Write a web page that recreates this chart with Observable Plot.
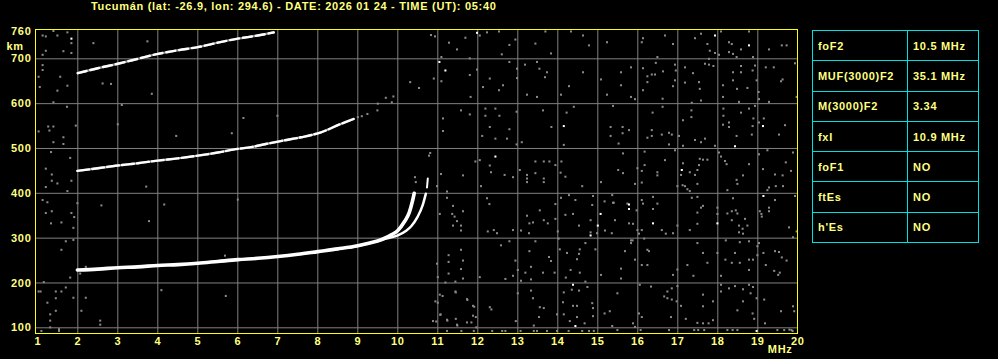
<!DOCTYPE html>
<html><head><meta charset="utf-8">
<script src="https://cdn.jsdelivr.net/npm/d3@7"></script>
<script src="https://cdn.jsdelivr.net/npm/@observablehq/plot@0.6"></script>
<style>
html,body{margin:0;padding:0;background:#000;}
#wrap{position:relative;width:998px;height:359px;background:#000;overflow:hidden;font-family:"Liberation Sans",Arial,sans-serif;font-weight:bold;}
#wrap svg{position:absolute;left:0;top:0;}
#title{position:absolute;left:91px;top:0px;font-size:11px;letter-spacing:0.7px;color:#ffff80;white-space:nowrap;line-height:13px;}
#params{position:absolute;left:812px;top:30px;border-collapse:collapse;table-layout:fixed;width:166px;}
#params td{border:1px solid #00e0e0;height:30.3px;padding:0 0 0 5px;color:#ffff80;font-size:11px;letter-spacing:0.7px;white-space:nowrap;box-sizing:border-box;}
</style></head>
<body><div id="wrap"><div id="title"></div><table id="params"><colgroup><col style="width:95px"><col style="width:71px"></colgroup><tbody></tbody></table></div>
<script>
const titleText = "Tucumán (lat: -26.9, lon: 294.6) - DATE: 2026 01 24 - TIME (UT): 05:40";
const paramNames = ["foF2", "MUF(3000)F2", "M(3000)F2", "fxI", "foF1", "ftEs", "h'Es"];
const paramValues = ["10.5 MHz", "35.1 MHz", "3.34", "10.9 MHz", "NO", "NO", "NO"];

const xTicks = [1,2,3,4,5,6,7,8,9,10,11,12,13,14,15,16,17,18,19,20];
const yTicks = [760,700,600,500,400,300,200,100];
const gridF = [2,3,4,5,6,7,8,9,10,11,12,13,14,15,16,17,18,19];
const gridH = [100,200,300,400,500,600,700];

// ordinary-wave F2 trace
const oF = [1.99,2.5,3,3.5,4,4.5,5,5.5,6,6.5,7,7.5,8,8.5,9,9.3,9.6,9.85,10.0,10.16,10.29,10.37,10.41];
const oH = [229,231,234,236,239,241,244,248,252,255,259,264,270,276,283,289,297,308,317,336,358,384,400];
// extraordinary-wave trace
const xF = [8.8,9.2,9.66,10.0,10.2,10.33,10.49,10.62,10.7];
const xH = [279,287,298,306,316,326,347,373,399];
const xDashF = [10.73,10.75];
const xDashH = [413,433];
// second hop
const hop2F = [1.99,2.5,3,3.5,4,4.5,5,5.5,6,6.33,6.7,7.1,7.58,8.08,8.53,8.9];
const hop2H = [450,456,462,467,473,478,484,491,499,503,510,517,525,536,553,566];
// third hop
const hop3F = [2.0,2.5,3,3.5,4,4.5,5,5.5,6,6.5,6.9];
const hop3H = [668,679,689,700,711,719,726,736,745,752,759];

// scattered echoes (MHz, km)
const noiseGrey = [
[10.83,753],[10.93,750],[11.28,736],[11.48,721],[11.69,747],[12.05,752],[12.23,759],[12.53,761],[12.79,731],[12.94,743],[13.44,734],[13.69,761],[13.83,712],[14.33,761],[14.63,752],[14.78,730],[15.23,737],[12.6,710],
[11.09,704],[10.9,656],[11.09,650],[11.8,701],[11.98,676],[11.8,664],[12.3,656],[12.13,637],[12.53,630],[12.63,641],[12.79,693],[12.98,678],[12.98,657],[13.18,687],[13.48,693],[13.54,678],[13.68,659],[13.73,670],[13.23,620],[13.48,615],[14.08,620],[14.28,639],[14.63,670],[15.08,654],[15.23,620],[11.82,615],
[11.13,567],[11.58,585],[11.8,576],[12.19,589],[12.44,589],[12.19,573],[12.54,573],[12.79,543],[12.97,582],[13.63,585],[13.84,548],[14.22,580],[14.4,593],[15.32,548],[15.32,528],[11.13,539],[12.3,548],[12.11,528],[12.44,522],[12.73,522],[12.97,509],[13.1,514],[14.15,508],
[11.94,471],[12.3,462],[12.33,447],[12.05,474],[11.63,440],[11.08,443],[12.67,441],[12.88,436],[13.05,452],[13.23,441],[13.44,471],[13.65,471],[13.79,471],[13.94,463],[14.09,471],[14.07,446],[13.44,445],[14.19,437],[13.23,433],[13.65,433],
[10.98,416],[11.23,404],[12.08,416],[13.23,425],[13.65,425],[14.61,416],[15.08,425],[15.36,396],[11.23,390],[11.38,372],[11.63,360],[11.36,354],[11.42,348],[11.48,338],[11.05,354],[11.38,328],[11.58,328],[11.58,317],[12.23,389],[12.29,376],[12.4,318],[12.48,311],[12.25,315],[12.88,318],[13.08,317],[13.23,350],[13.29,333],[13.38,335],[13.28,311],[13.55,362],[13.65,340],[13.75,333],[13.94,343],[13.94,376],[14.08,390],[14.28,396],[14.44,385],[14.88,394],[14.86,374],[15.17,382],[15.4,379],[14.19,352],[14.38,354],[14.53,328],[14.82,340],[14.82,313],[14.98,311],[15.18,317],[15.35,311],[14.0,315],[14.02,299],
[10.98,243],[11.27,262],[11.27,247],[11.27,221],[11.58,274],[11.63,250],[11.58,231],[11.63,210],[11.0,213],[11.19,201],[11.44,203],[12.05,213],[12.58,284],[12.79,293],[12.94,250],[12.88,216],[12.69,209],[13.0,229],[13.08,205],[13.19,223],[13.29,271],[13.33,236],[13.33,208],[13.44,293],[13.78,258],[13.83,249],[13.92,223],[13.63,223],[14.05,275],[14.23,267],[14.48,253],[14.53,265],[14.55,275],[14.69,289],[14.94,275],[14.32,229],[14.55,223],[14.69,203],[14.2,212],[15.08,218],
[14.35,185],[14.15,179],[14.53,183],[14.74,191],[11.05,174],[11.44,181],[11.73,164],[11.88,149],[10.94,159],[11.07,130],[11.23,118],[11.45,120],[11.48,107],[11.88,127],[11.73,112],[12.3,146],[10.88,115],[13.0,177],[13.33,183],[13.38,166],[13.55,146],[13.65,144],[13.53,124],[13.4,105],[12.95,115],[13.98,130],[14.13,157],[14.15,130],[14.3,115],[14.48,124],[14.38,149],[14.48,149],[14.67,110],[14.86,155],[14.88,144],[14.88,126],[15.17,132],[15.3,137],[15.36,104],
[11.23,93],[11.9,93],[12.36,93],[12.61,93],[12.69,93],[13.07,93],[13.4,93],[13.48,93],[13.73,93],[13.98,93],[14.27,93],[14.61,93],[14.78,93],[14.9,93],
[16.13,746],[16.1,737],[16.68,752],[16.88,733],[17.43,746],[17.58,756],[17.74,733],[17.8,718],[17.93,713],[18.03,709],[18.08,761],[18.28,737],[18.35,733],[18.28,715],[18.38,711],[18.58,721],[18.47,704],[18.78,761],[18.88,704],[19.28,721],[19.6,730],[19.72,730],
[16.49,704],[16.45,691],[16.13,679],[15.83,681],[15.58,670],[16.93,687],[16.95,674],[16.63,672],[16.43,665],[16.24,661],[16.35,665],[16.24,648],[16.93,652],[16.88,639],[17.18,681],[17.38,668],[17.53,648],[17.55,633],[17.18,647],[17.68,689],[17.78,687],[17.89,684],[17.78,700],[18.13,641],[18.13,615],[18.38,670],[18.58,670],[18.58,684],[18.38,652],[18.48,633],[18.74,635],[18.93,685],[18.87,674],[18.97,652],[19.2,681],[19.4,681],[19.62,654],[19.58,650],[19.93,690],[19.02,626],[19.03,610],[19.28,604],[19.97,615],[15.58,641],[15.93,610],[15.83,615],[16.13,630],[16.62,611],[17.35,602],[17.58,607],[18.53,604],[15.38,595],[16.62,593],[16.37,580],
[15.62,548],[15.62,534],[15.52,511],[15.78,541],[16.24,524],[16.35,528],[16.35,541],[16.6,531],[16.78,535],[16.85,531],[16.78,509],[17.03,528],[17.34,585],[17.34,570],[17.13,563],[17.43,519],[17.58,514],[17.68,522],[17.13,506],[18.14,589],[18.14,573],[18.13,553],[18.28,558],[18.28,548],[18.58,580],[18.78,589],[18.93,595],[18.89,567],[18.87,550],[18.85,531],[19.03,558],[19.15,567],[19.68,552],[19.53,531],[18.47,528],[17.93,506],
[15.63,489],[16.17,493],[16.17,463],[15.99,456],[16.1,450],[15.51,452],[15.63,445],[16.68,474],[16.49,447],[16.49,440],[16.93,496],[17.13,467],[17.08,441],[17.3,447],[17.55,477],[17.63,475],[17.74,475],[17.53,463],[17.49,452],[17.43,441],[18.03,491],[18.08,482],[18.18,472],[18.22,465],[18.78,465],[18.63,440],[19.03,487],[19.24,496],[19.13,454],[19.43,442],[19.62,440],[19.88,491],[19.83,450],[19.7,469],[18.47,430],
[15.93,421],[16.1,424],[16.99,416],[17.12,418],[17.18,416],[17.24,409],[17.49,421],[18.49,421],[18.24,407],[19.24,407],[19.28,413],[19.45,416],[19.63,416],[19.93,394],[19.43,385],[15.38,379],[15.74,377],[15.97,362],[16.13,377],[16.1,385],[16.38,392],[16.38,365],[16.49,377],[15.78,333],[15.88,332],[15.43,340],[15.99,318],[16.03,310],[16.1,318],[16.16,299],[15.87,295],[15.83,289],[16.6,318],[16.7,310],[16.88,311],[16.99,328],[17.3,318],[17.35,390],[17.49,392],[17.58,368],[17.63,372],[17.49,357],[17.49,332],[17.3,405],[17.99,368],[17.99,354],[18.24,355],[18.35,360],[18.45,362],[18.49,355],[18.35,340],[18.38,389],[18.68,343],[18.53,328],[18.62,321],[18.74,328],[18.53,313],[18.63,310],[19.05,360],[19.09,354],[19.28,368],[19.28,360],[19.1,348],[19.78,324],[19.88,302],[19.97,315],
[15.68,271],[15.83,295],[16.24,274],[16.28,271],[15.93,252],[15.58,232],[15.58,210],[16.1,240],[16.24,240],[16.88,218],[16.99,230],[17.24,240],[17.49,289],[17.63,267],[17.74,245],[17.39,216],[17.99,267],[18.08,216],[18.2,295],[18.19,252],[18.35,245],[18.43,267],[18.55,291],[18.55,245],[18.78,293],[18.78,252],[18.78,229],[18.88,252],[18.99,282],[18.99,262],[19.14,267],[19.03,289],[19.2,240],[19.43,271],[19.53,269],[19.6,257],[19.72,250],[19.41,227],[19.51,218],[19.55,223],
[16.05,196],[16.33,192],[16.74,181],[16.85,188],[16.99,193],[16.66,170],[16.74,166],[16.85,163],[16.97,159],[17.08,149],[16.83,124],[16.03,132],[16.1,124],[15.88,110],[15.93,102],[15.49,177],[15.49,95],[17.2,120],[17.49,111],[17.63,174],[17.63,148],[17.63,110],[17.88,159],[17.77,110],[17.88,117],[18.08,196],[18.08,181],[18.28,188],[18.43,193],[18.63,186],[18.78,196],[18.88,191],[18.82,177],[18.63,159],[18.49,139],[18.87,132],[18.91,120],[18.97,166],[19.16,163],[19.58,137],[19.88,148],[19.91,137],[19.18,110],[19.79,96],[19.87,93],[19.84,95],
[16.07,95],[16.78,95],[17.41,95],[17.51,95],[17.66,95],[18.24,95],[18.37,95],[18.49,95],[19.49,95],[19.66,95],
[1.12,752],[1.2,750],[1.39,762],[1.74,759],[1.84,735],[1.49,752],[1.2,718],[1.12,709],[1.64,717],[1.84,713],[1.12,686],[1.12,675],[1.02,660],[1.56,660],[1.74,640],[1.49,629],[1.05,637],[1.39,603],[1.73,593],[1.26,549],[1.39,549],[1.95,551],[1.64,525],[1.29,540],[1.02,538],[1.39,514],[1.64,510],[1.33,492],[1.81,479],[1.2,455],[1.35,442],[1.49,422],[1.35,428],[1.84,428],[1.2,414],[1.74,405],[1.12,385],[1.24,380],[1.2,356],[1.35,360],[1.84,356],[1.91,347],[1.99,378],[1.33,333],[1.59,335],[1.89,323],[1.7,293],[1.59,274],[1.89,296],[1.15,202],[1.81,212],[2.06,221],[2.2,236],[2.59,373],[3.78,338],[4.16,375],[6.0,386],[5.68,261],
[1.02,181],[1.07,181],[1.24,156],[1.45,181],[1.45,166],[1.59,181],[1.7,190],[1.89,167],[2.2,167],[1.45,138],[1.31,130],[1.31,116],[1.31,101],[2.09,138],[2.56,116],[2.56,107],[1.09,93],[1.53,97],[1.53,93],[4.09,184],[5.7,171],
[11.0,156],[11.12,171],[11.06,129],[10.96,114],[11.45,179],[11.74,162],[11.91,147],[11.95,124],[11.24,116],[11.49,105],[11.84,112],[11.59,93],[12.34,141],[11.96,101],
[6.99,573],[10.31,648],[10.53,635],[9.5,600],[9.7,613],[9.89,616],[9.85,603],[9.49,585],[10.43,436],[10.78,484],[10.45,425],[10.81,490],[9.0,570],[9.24,577],[9.1,572],
[3.74,739],[2.39,735],[2.83,644],[3.1,597],[3.85,622],[6.14,568],[5.85,534],[4.46,528],[3.71,415],[3.0,554],[2.62,645]
];
const noiseWhite = [[11.98,758],[11.04,693],[11.19,674],[14.15,550],[12.44,482],[15.07,354],[15.0,328],[14.82,306],[14.38,196],[14.44,104],[17.93,752],[18.78,730],[19.13,550],[18.43,505],[17.1,452],[19.14,394],[15.78,375],[15.78,365],[16.38,333],[17.99,333],[18.97,93],[1.84,745]];

const toPts = (fs, hs) => fs.map((f, i) => ({f, h: hs[i]}));

const yellow = "#ffff80";
const chart = Plot.plot({
  width: 998, height: 359,
  marginLeft: 35, marginRight: 201, marginTop: 29, marginBottom: 26,
  x: {domain: [0.9425, 19.9925], axis: null},
  y: {domain: [87.3, 765.4], axis: null},
  style: {background: "transparent", color: yellow, fontFamily: "'Liberation Sans', Arial, sans-serif", fontSize: "11px", letterSpacing: "0.7px", overflow: "visible"},
  marks: [
    Plot.ruleX(gridF, {x: d => d, stroke: "#808080", strokeWidth: 1}),
    Plot.ruleY(gridH, {y: d => d, stroke: "#808080", strokeWidth: 1}),
    Plot.dot(noiseGrey, {x: d => d[0], y: d => d[1], symbol: "square", r: 1.15, fill: "#8a8a8a", stroke: null}),
    Plot.dot(noiseWhite, {x: d => d[0], y: d => d[1], symbol: "square", r: 1.15, fill: "#ffffff", stroke: null}),
    Plot.line(toPts(hop3F, hop3H), {x: "f", y: "h", stroke: "#8a8a8a", strokeWidth: 2.4, curve: "monotone-x"}),
    Plot.line(toPts(hop3F, hop3H), {x: "f", y: "h", stroke: "#ffffff", strokeWidth: 2.4, strokeDasharray: "9,4", curve: "monotone-x"}),
    Plot.line(toPts(hop2F, hop2H), {x: "f", y: "h", stroke: "#8a8a8a", strokeWidth: 2.4, curve: "monotone-x"}),
    Plot.line(toPts(hop2F, hop2H), {x: "f", y: "h", stroke: "#ffffff", strokeWidth: 2.4, strokeDasharray: "12,3", curve: "monotone-x"}),
    Plot.line(toPts(xF, xH), {x: "f", y: "h", stroke: "#ffffff", strokeWidth: 2.5, curve: "monotone-x"}),
    Plot.line(toPts(xDashF, xDashH), {x: "f", y: "h", stroke: "#ffffff", strokeWidth: 2}),
    Plot.line(toPts(oF, oH), {x: "f", y: "h", stroke: "#ffffff", strokeWidth: 3.6, curve: "monotone-x"}),
    Plot.frame({stroke: "#ffff00"}),
    Plot.text(xTicks, {x: d => d, text: d => String(d), frameAnchor: "bottom", dy: 11, fill: yellow, fontWeight: "bold", fontSize: 11}),
    Plot.text(yTicks, {y: d => d, text: d => String(d), frameAnchor: "left", dx: -4, textAnchor: "end", fill: yellow, fontWeight: "bold", fontSize: 11}),
    Plot.text(["km"], {text: d => d, frameAnchor: "top-left", dx: -29, dy: 13, textAnchor: "start", fill: yellow, fontWeight: "bold", fontSize: 11}),
    Plot.text(["MHz"], {text: d => d, frameAnchor: "bottom-right", dx: -5, dy: 19, textAnchor: "end", fill: yellow, fontWeight: "bold", fontSize: 11})
  ]
});
const wrap = document.getElementById("wrap");
wrap.insertBefore(chart, wrap.firstChild);
document.getElementById("title").textContent = titleText;
const tbody = document.querySelector("#params tbody");
paramNames.forEach((n, i) => {
  const tr = document.createElement("tr");
  const a = document.createElement("td"); a.textContent = n;
  const b = document.createElement("td"); b.textContent = paramValues[i];
  tr.appendChild(a); tr.appendChild(b); tbody.appendChild(tr);
});
</script></body></html>
